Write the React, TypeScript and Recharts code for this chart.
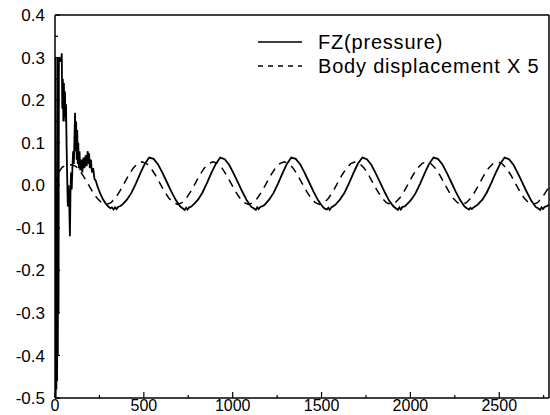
import React from 'react';
import { LineChart, Line, XAxis, YAxis, ReferenceLine } from 'recharts';

// FZ(pressure): [time, force]
const fzTransient: [number, number][] = [
  [0, -0.5], [2, 0.3], [4, -0.5], [6, 0.0], [8, -0.48], [10, -0.12], [12, -0.46], [14, 0.3],
  [16, -0.4], [18, 0.0], [20, -0.3], [22, 0.3], [26, 0.29], [30, 0.3], [34, 0.29], [38, 0.31],
  [41, 0.18], [44, 0.25], [47, 0.15], [50, 0.24], [53, 0.16], [56, 0.22], [59, 0.15], [62, 0.19],
  [65, 0.1], [68, 0.03], [72, -0.05], [76, 0.0], [80, -0.04], [84, -0.12], [87, -0.02], [90, 0.03],
  [94, -0.01], [98, 0.04], [102, 0.08], [106, 0.05], [110, 0.12], [113, 0.17], [116, 0.08], [119, 0.15],
  [122, 0.06], [125, 0.13], [128, 0.05], [131, 0.1], [134, 0.04], [138, 0.08], [142, 0.035], [148, 0.06],
  [154, 0.03], [160, 0.065], [166, 0.04], [172, 0.07], [178, 0.045], [184, 0.08], [188, 0.05], [192, 0.075],
  [196, 0.04], [202, 0.06], [208, 0.03], [215, 0.04], [222, 0.015], [230, 0.01], [240, -0.004], [255, -0.02],
  [270, -0.033], [285, -0.043], [300, -0.05], [312, -0.054], [320, -0.052],
];

const fzCycles: [number, number][] = [
  [330, -0.057], [338, -0.052], [346, -0.056], [355, -0.051], [368, -0.049], [380, -0.045], [405, -0.034], [430, -0.018],
  [455, 0.004], [480, 0.028], [505, 0.05], [530, 0.065], [555, 0.062], [580, 0.049], [605, 0.029], [630, 0.007],
  [655, -0.015], [680, -0.035], [705, -0.05], [718, -0.054],
  [730, -0.058], [738, -0.053], [746, -0.057], [755, -0.052], [768, -0.05], [780, -0.045], [805, -0.034], [830, -0.017],
  [855, 0.005], [880, 0.029], [905, 0.05], [930, 0.065], [955, 0.061], [980, 0.048], [1005, 0.028], [1030, 0.006],
  [1055, -0.016], [1080, -0.036], [1105, -0.051], [1118, -0.054],
  [1130, -0.058], [1138, -0.052], [1146, -0.056], [1155, -0.051], [1168, -0.049], [1180, -0.046], [1205, -0.034], [1230, -0.018],
  [1255, 0.004], [1280, 0.028], [1305, 0.05], [1330, 0.065], [1355, 0.062], [1380, 0.049], [1405, 0.029], [1430, 0.007],
  [1455, -0.015], [1480, -0.035], [1505, -0.05], [1518, -0.055],
  [1530, -0.057], [1538, -0.053], [1546, -0.058], [1555, -0.052], [1568, -0.049], [1580, -0.045], [1605, -0.033], [1630, -0.017],
  [1655, 0.005], [1680, 0.029], [1705, 0.051], [1730, 0.065], [1755, 0.061], [1780, 0.048], [1805, 0.028], [1830, 0.006],
  [1855, -0.016], [1880, -0.036], [1905, -0.05], [1918, -0.054],
  [1930, -0.058], [1938, -0.052], [1946, -0.057], [1955, -0.051], [1968, -0.05], [1980, -0.045], [2005, -0.034], [2030, -0.018],
  [2055, 0.004], [2080, 0.028], [2105, 0.05], [2130, 0.065], [2155, 0.062], [2180, 0.049], [2205, 0.029], [2230, 0.007],
  [2255, -0.015], [2280, -0.035], [2305, -0.05], [2318, -0.054],
  [2330, -0.057], [2338, -0.053], [2346, -0.056], [2355, -0.052], [2368, -0.049], [2380, -0.045], [2405, -0.034], [2430, -0.017],
  [2455, 0.005], [2480, 0.029], [2505, 0.05], [2530, 0.065], [2555, 0.061], [2580, 0.048], [2605, 0.028], [2630, 0.006],
  [2655, -0.016], [2680, -0.036], [2705, -0.051], [2718, -0.054],
  [2730, -0.058], [2738, -0.052], [2746, -0.056], [2755, -0.051], [2768, -0.049], [2780, -0.046],
];

// Body displacement X 5: [time, displacement]
const bodyDisp: [number, number][] = [
  [0, 0.0], [20, 0.03], [40, 0.042], [60, 0.047], [90, 0.048], [115, 0.045], [140, 0.034], [165, 0.018],
  [190, 0.0], [215, -0.018], [240, -0.032], [265, -0.042],
  [290, -0.045], [315, -0.041], [340, -0.03], [365, -0.014], [390, 0.005], [415, 0.024], [440, 0.04], [465, 0.051],
  [490, 0.055], [515, 0.051], [540, 0.04], [565, 0.024], [590, 0.005], [615, -0.014], [640, -0.03], [665, -0.041],
  [690, -0.045], [715, -0.041], [740, -0.03], [765, -0.014], [790, 0.005], [815, 0.024], [840, 0.04], [865, 0.051],
  [890, 0.055], [915, 0.051], [940, 0.04], [965, 0.024], [990, 0.005], [1015, -0.014], [1040, -0.03], [1065, -0.041],
  [1090, -0.045], [1115, -0.041], [1140, -0.03], [1165, -0.014], [1190, 0.005], [1215, 0.024], [1240, 0.04], [1265, 0.051],
  [1290, 0.055], [1315, 0.051], [1340, 0.04], [1365, 0.024], [1390, 0.005], [1415, -0.014], [1440, -0.03], [1465, -0.041],
  [1490, -0.045], [1515, -0.041], [1540, -0.03], [1565, -0.014], [1590, 0.005], [1615, 0.024], [1640, 0.04], [1665, 0.051],
  [1690, 0.055], [1715, 0.051], [1740, 0.04], [1765, 0.024], [1790, 0.005], [1815, -0.014], [1840, -0.03], [1865, -0.041],
  [1890, -0.045], [1915, -0.041], [1940, -0.03], [1965, -0.014], [1990, 0.005], [2015, 0.024], [2040, 0.04], [2065, 0.051],
  [2090, 0.055], [2115, 0.051], [2140, 0.04], [2165, 0.024], [2190, 0.005], [2215, -0.014], [2240, -0.03], [2265, -0.041],
  [2290, -0.045], [2315, -0.041], [2340, -0.03], [2365, -0.014], [2390, 0.005], [2415, 0.024], [2440, 0.04], [2465, 0.051],
  [2490, 0.055], [2515, 0.051], [2540, 0.04], [2565, 0.024], [2590, 0.005], [2615, -0.014], [2640, -0.03], [2665, -0.041],
  [2690, -0.045], [2715, -0.041], [2740, -0.03], [2765, -0.014], [2780, -0.004],
];

const xTicks = [0, 250, 500, 750, 1000, 1250, 1500, 1750, 2000, 2250, 2500, 2750];
const yTicks = [-0.5, -0.45, -0.4, -0.35, -0.3, -0.25, -0.2, -0.15, -0.1, -0.05, 0, 0.05, 0.1, 0.15, 0.2, 0.25, 0.3, 0.35, 0.4];

const fzData = [...fzTransient, ...fzCycles].map(([t, v]) => ({ t, v }));
const dispData = bodyDisp.map(([t, v]) => ({ t, v }));

const FONT = '"Liberation Sans", Arial, sans-serif';

const XTick = (props: any) => {
  const { x, y, payload } = props;
  const major = payload.value % 500 === 0;
  return (
    <g>
      <line x1={x} x2={x} y1={y} y2={y - (major ? 6 : 3)} stroke="#000" strokeWidth={1.2} />
      {major && (
        <text x={x} y={y + 13} textAnchor="middle" fontSize={16} fontFamily={FONT} fill="#000">
          {payload.value}
        </text>
      )}
    </g>
  );
};

const YTick = (props: any) => {
  const { x, y, payload } = props;
  const major = Math.abs(Math.round(payload.value * 100)) % 10 === 0;
  return (
    <g>
      <line x1={x} x2={x + (major ? 5 : 3)} y1={y} y2={y} stroke="#000" strokeWidth={1.2} />
      {major && (
        <text x={x - 10} y={y} dy="0.36em" textAnchor="end" fontSize={17} fontFamily={FONT} fill="#000">
          {payload.value.toFixed(1)}
        </text>
      )}
    </g>
  );
};

const legendText: React.CSSProperties = {
  fontFamily: FONT,
  fontSize: 20,
  letterSpacing: 0.8,
  color: '#000',
  lineHeight: '24px',
  whiteSpace: 'nowrap',
};

export default function App() {
  return (
    <div style={{ position: 'absolute', left: 0, top: 0, width: 550, height: 415, background: '#fff' }}>
      <LineChart width={550} height={415} margin={{ top: 15, right: 1, bottom: 0, left: 0 }}>
        <XAxis
          type="number"
          dataKey="t"
          domain={[0, 2780]}
          ticks={xTicks}
          interval={0}
          allowDataOverflow
          height={17}
          tickSize={0}
          tickMargin={0}
          tickLine={false}
          tick={<XTick />}
          axisLine={{ stroke: '#000', strokeWidth: 1.5 }}
        />
        <YAxis
          type="number"
          dataKey="v"
          domain={[-0.5, 0.4]}
          ticks={yTicks}
          interval={0}
          allowDataOverflow
          width={55}
          tickSize={0}
          tickMargin={0}
          tickLine={false}
          tick={<YTick />}
          axisLine={{ stroke: '#000', strokeWidth: 1.5 }}
        />
        <ReferenceLine y={0.4} stroke="#000" strokeWidth={1.5} ifOverflow="visible" />
        <ReferenceLine x={2780} stroke="#000" strokeWidth={1.5} ifOverflow="visible" />
        <Line
          data={fzData}
          dataKey="v"
          type="linear"
          stroke="#000"
          strokeWidth={1.8}
          dot={false}
          isAnimationActive={false}
        />
        <Line
          data={dispData}
          dataKey="v"
          type="linear"
          stroke="#000"
          strokeWidth={1.5}
          strokeDasharray="8 6"
          dot={false}
          isAnimationActive={false}
        />
      </LineChart>
      <div style={{ position: 'absolute', left: 256, top: 30 }}>
        <div style={{ display: 'flex', alignItems: 'center' }}>
          <svg width={62} height={24}>
            <line x1={2} x2={46} y1={12} y2={12} stroke="#000" strokeWidth={1.5} />
          </svg>
          <span style={legendText}>FZ(pressure)</span>
        </div>
        <div style={{ display: 'flex', alignItems: 'center' }}>
          <svg width={62} height={24}>
            <line x1={2} x2={46} y1={12} y2={12} stroke="#000" strokeWidth={1.5} strokeDasharray="5 5" />
          </svg>
          <span style={legendText}>Body displacement X 5</span>
        </div>
      </div>
    </div>
  );
}
